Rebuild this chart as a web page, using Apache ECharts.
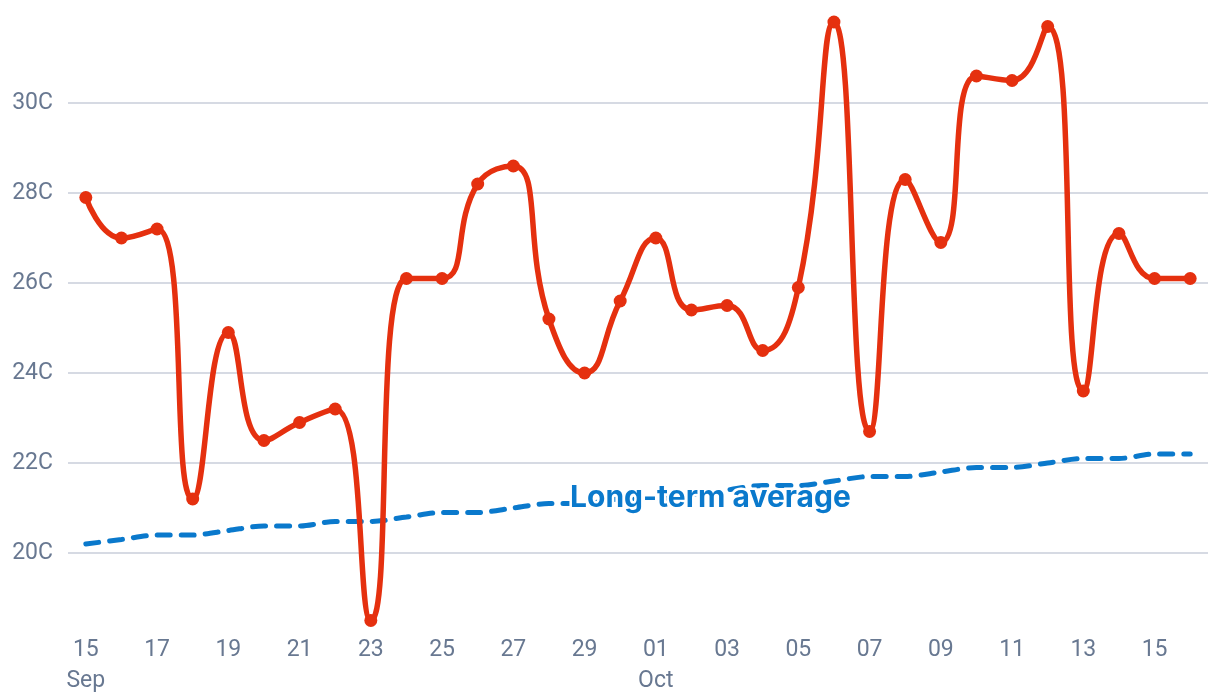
<!DOCTYPE html>
<html>
<head>
<meta charset="utf-8">
<script src="https://cdn.jsdelivr.net/npm/echarts@6/dist/echarts.min.js"></script>
<style>
html,body{margin:0;padding:0;background:#fff;}
#chart{width:1220px;height:700px;}
</style>
</head>
<body>
<div id="chart"></div>
<script>
const days = ['15','16','17','18','19','20','21','22','23','24','25','26','27','28','29','30',
  '01','02','03','04','05','06','07','08','09','10','11','12','13','14','15','16'];
const months = ['Sep','','','','','','','','','','','','','','','',
  'Oct','','','','','','','','','','','','','','',''];
const temperature = [27.9,27.0,27.2,21.2,24.9,22.5,22.9,23.2,18.5,26.1,26.1,28.2,28.6,25.2,24.0,25.6,
  27.0,25.4,25.5,24.5,25.9,31.8,22.7,28.3,26.9,30.6,30.5,31.7,23.6,27.1,26.1,26.1];
const longTermAverage = [20.2,20.3,20.4,20.4,20.5,20.6,20.6,20.7,20.7,20.8,20.9,20.9,21.0,21.1,21.1,21.2,
  21.2,21.3,21.4,21.5,21.5,21.6,21.7,21.7,21.8,21.9,21.9,22.0,22.1,22.1,22.2,22.2];
const yTicks = {min: 20, max: 30, step: 2};
const avgLabel = 'Long-term average';

const categories = days.map((d, i) => i);
const labelColor = '#687891';
const font = 'Roboto';

const chart = echarts.init(document.getElementById('chart'), null, {renderer: 'canvas'});
chart.setOption({
  animation: false,
  backgroundColor: '#ffffff',
  grid: {left: 68, right: 12, top: 103, bottom: 147, containLabel: false},
  xAxis: {
    type: 'category',
    data: categories,
    boundaryGap: true,
    axisLine: {show: false},
    axisTick: {show: false},
    splitLine: {show: false},
    axisLabel: {
      interval: 1,
      margin: 82,
      fontFamily: font,
      fontSize: 23,
      color: labelColor,
      lineHeight: 31,
      formatter: function (v) {
        const idx = Number(v);
        return months[idx] ? days[idx] + '\n' + months[idx] : days[idx];
      }
    }
  },
  yAxis: {
    type: 'value',
    min: yTicks.min,
    max: yTicks.max,
    interval: yTicks.step,
    axisLine: {show: false},
    axisTick: {show: false},
    splitLine: {lineStyle: {color: '#d6dae3', width: 2}},
    axisLabel: {
      margin: 15,
      fontFamily: font,
      fontSize: 23,
      color: labelColor,
      formatter: v => v + 'C'
    }
  },
  series: [
    {
      name: 'Long-term average',
      type: 'line',
      data: longTermAverage,
      clip: false,
      smooth: 0.3,
      symbol: 'none',
      z: 2,
      lineStyle: {color: '#0a79cc', width: 5, type: [13, 11], cap: 'round'},
      markPoint: {
        symbol: 'circle',
        symbolSize: 0,
        silent: true,
        data: [{coord: [17, 21.3], value: 0}],
        label: {
          show: true,
          position: 'inside',
          offset: [19, 3],
          formatter: avgLabel,
          fontFamily: 'Inter',
          fontWeight: 'bold',
          fontSize: 30,
          color: '#0a79cc',
          textBorderColor: '#ffffff',
          textBorderWidth: 5
        }
      }
    },
    {
      name: 'Temperature',
      type: 'line',
      data: temperature,
      clip: false,
      smooth: 0.5,
      symbol: 'circle',
      symbolSize: 13,
      z: 3,
      itemStyle: {color: '#e5300f'},
      lineStyle: {color: '#e5300f', width: 5.5}
    }
  ]
});
</script>
</body>
</html>
